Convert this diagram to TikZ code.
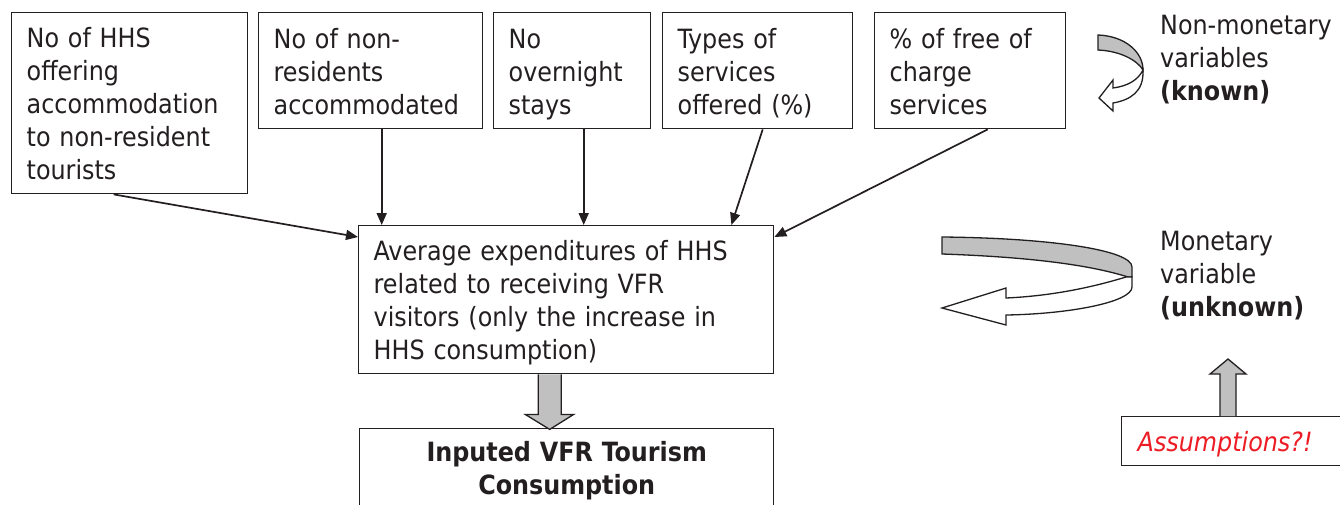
\documentclass[tikz,border=0pt]{standalone}
\usepackage{fontspec}
\setmainfont{DejaVu Sans Condensed}[BoldFont={DejaVu Sans Condensed Bold},ItalicFont={DejaVu Sans Condensed Oblique},BoldItalicFont={DejaVu Sans Condensed Bold Oblique}]
\usetikzlibrary{arrows.meta,calc}
\definecolor{txt}{RGB}{35,31,32}
\definecolor{fillg}{RGB}{192,192,192}
\definecolor{redt}{RGB}{237,28,36}
\begin{document}
\begin{tikzpicture}[x=1pt,y=-1pt,
  every node/.style={font=\fontsize{26.5pt}{33pt}\selectfont, text=txt},
  box/.style={draw=txt, line width=1.4pt, anchor=north west, inner xsep=15pt, inner ysep=0pt,
    align=left, execute at begin node={\rule{0pt}{28pt}}, execute at end node={\rule[-7pt]{0pt}{7pt}}},
  lbl/.style={anchor=north west, inner sep=0pt, align=left},
  conn/.style={line width=1.7pt, draw=txt, -{Triangle[length=12pt,width=10pt]}},
  fat/.style={draw=txt, line width=1.3pt, fill=fillg, line join=miter},
  fatw/.style={draw=txt, line width=1.3pt, fill=white, line join=miter}
]
\clip (0,0) rectangle (1340,504);
\fill[white] (0,0) rectangle (1340,504);

% top boxes
\node[box, text width=206pt, minimum height=181pt] (b1) at (11,12)
  {No of HHS\\offering\\accommodation\\to non-resident\\tourists};
\node[box, text width=194pt, minimum height=116pt] (b2) at (258,12)
  {No of non-\\residents\\accommodated};
\node[box, text width=127pt, minimum height=116pt] (b3) at (493,12)
  {No\\overnight\\stays};
\node[box, text width=160pt, minimum height=116pt] (b4) at (662,12)
  {Types of\\services\\offered (\%)};
\node[box, text width=161pt, minimum height=116pt] (b5) at (874,12)
  {\% of free of\\charge\\services};

% middle box
\node[box, text width=385pt, minimum height=148pt] (mid) at (358,225)
  {Average expenditures of HHS\\related to receiving VFR\\visitors (only the increase in\\HHS consumption)};

% bottom box
\node[box, text width=384pt, minimum height=78pt, align=center] (res) at (359,428)
  {\textbf{Inputed VFR Tourism}\\\textbf{Consumption}};

% assumptions box
\node[box, text width=210pt, minimum height=49pt, inner xsep=16pt, text=redt,
  font=\fontsize{26.5pt}{33pt}\selectfont\itshape] (ass) at (1121,416) {Assumptions?!};

% labels
\node[lbl] (nm) at (1160,15) {Non-monetary\\variables\\\textbf{(known)}};
\node[lbl] (mo) at (1160,231) {Monetary\\variable\\\textbf{(unknown)}};

% connectors
\draw[conn] ([xshift=-16pt]b1.south) -- ([yshift=-12pt]mid.north west);
\draw[conn] ([xshift=11pt]b2.south) -- ([xshift=11pt]b2.south |- mid.north);
\draw[conn] ([xshift=11.5pt]b3.south) -- ([xshift=11.5pt]b3.south |- mid.north);
\draw[conn] ([xshift=5pt]b4.south) -- ([xshift=-43pt]mid.north east);
\draw[conn] ([xshift=17.5pt]b5.south) -- ([yshift=-12pt]mid.north east);

% fat arrow mid -> res
\coordinate (fa) at ([xshift=-16.5pt]mid.south);
\draw[fat] ($(fa)+(-11.5,0)$) -- ($(fa)+(-11.5,40)$) -- ($(fa)+(-24.5,40)$) -- ($(fa)+(0,55)$)
  -- ($(fa)+(24,40)$) -- ($(fa)+(11.5,40)$) -- ($(fa)+(11.5,0)$);

% fat arrow assumptions -> up
\coordinate (fb) at ([xshift=107pt]ass.north west);
\draw[fat] ($(fb)+(-8,0)$) -- ($(fb)+(-8,-42)$) -- ($(fb)+(-18,-42)$) -- ($(fb)+(0,-57)$)
  -- ($(fb)+(18,-42)$) -- ($(fb)+(8,-42)$) -- ($(fb)+(8,0)$);

% curved arrow: non-monetary
\draw[fat] (1098,35) .. controls (1125,36) and (1143,52) .. (1143,70)
  .. controls (1137,60) and (1120,51) .. (1098,50) -- cycle;
\draw[fatw] (1143,70) .. controls (1138,80) and (1128,86) .. (1113,88) -- (1113,80) -- (1099,98)
  -- (1113,111) -- (1113,103) .. controls (1130,100) and (1144,92) .. (1143,70) -- cycle;

% curved arrow: monetary
\draw[fat] (942,237) .. controls (1050,238) and (1132,250) .. (1132,267) -- (1132,277)
  -- (1128,277) .. controls (1090,265) and (1030,257) .. (942,254) -- cycle;
\draw[fatw] (1126,277) .. controls (1090,288) and (1050,296) .. (1006,298) -- (1006,288) -- (942,308)
  -- (1006,325) -- (1006,315) .. controls (1070,314) and (1132,302) .. (1132,287) -- (1132,277) -- cycle;
\end{tikzpicture}
\end{document}
